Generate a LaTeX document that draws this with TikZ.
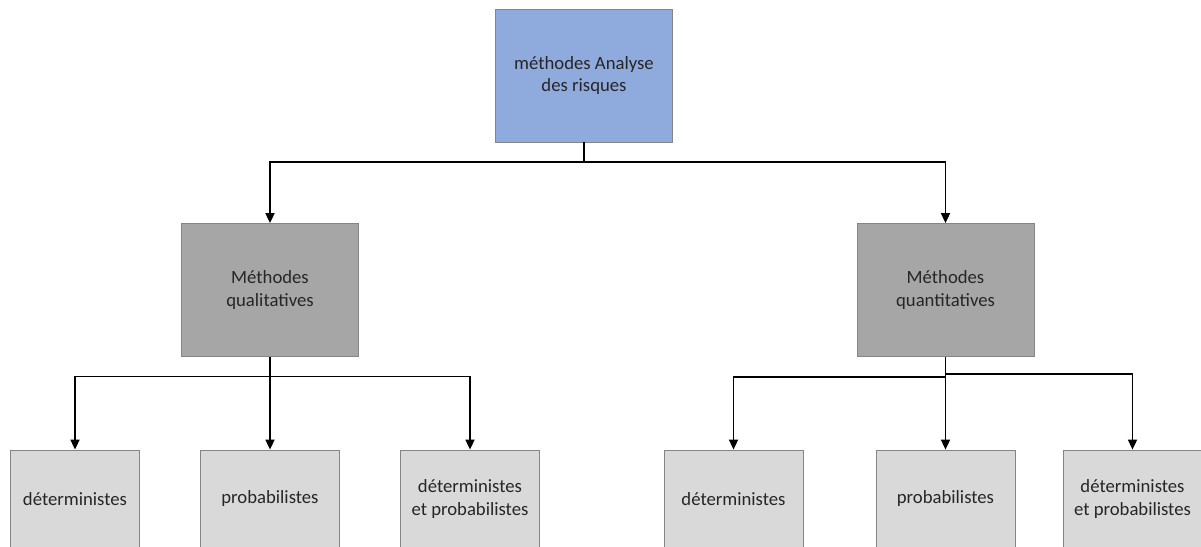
\documentclass[tikz,border=0pt]{standalone}
\usepackage{fontspec}
\setmainfont{Carlito}
\usetikzlibrary{arrows.meta}
\definecolor{topfill}{HTML}{8FAADC}
\definecolor{midfill}{HTML}{A6A6A6}
\definecolor{lowfill}{HTML}{D9D9D9}
\definecolor{boxline}{HTML}{858585}
\definecolor{txt}{HTML}{262626}
\begin{document}
\begin{tikzpicture}[x=1pt,y=-1pt,
  box/.style={draw=boxline,line width=0.8pt,align=center,text=txt,
    font=\fontsize{18.7}{22.7}\selectfont,inner sep=0pt},
  rootbox/.style={box,fill=topfill,minimum width=177pt,minimum height=133pt},
  groupbox/.style={box,fill=midfill,minimum width=177pt,minimum height=133pt},
  leafbox/.style={box,fill=lowfill,minimum width=139pt,minimum height=98pt},
  arr/.style={line width=1.7pt,-{Triangle[width=9pt,length=10pt]}}]
\useasboundingbox (0,0) rectangle (1201,546);

% root and the two families of methods
\node[rootbox]  (top) at (584,75.5)  {méthodes Analyse\\des risques};
\node[groupbox] (ml)  at (270,290)   {Méthodes\\qualitatives};
\node[groupbox] (mr)  at (945.5,290) {Méthodes\\quantitatives};

% leaves
\node[leafbox,minimum width=129pt] (lb1) at (75,499) {déterministes};
\node[leafbox] (lb2) at (270,499)    {probabilistes};
\node[leafbox] (lb3) at (470,499)    {déterministes\\et probabilistes};
\node[leafbox] (rb1) at (733.5,499)  {déterministes};
\node[leafbox] (rb2) at (945.5,499)  {probabilistes};
\node[leafbox] (rb3) at (1132.5,499) {déterministes\\et probabilistes};

% junctions
\coordinate (j1) at (584,162);
\coordinate (j2) at (270,376.5);
\coordinate (j3) at (945.5,377);
\coordinate (j4) at (945.5,374);

% connectors
\draw[arr] (top.south) -- (j1) -| (ml.north);
\draw[arr] (j1) -| (mr.north);

\draw[arr] (ml.south) -- (lb2.north);
\draw[arr] (j2) -| (lb1.north);
\draw[arr] (j2) -| (lb3.north);

\draw[arr] (mr.south) -- (rb2.north);
\draw[arr] (j3) -| (rb1.north);
\draw[arr] (j4) -| (rb3.north);
\end{tikzpicture}
\end{document}
